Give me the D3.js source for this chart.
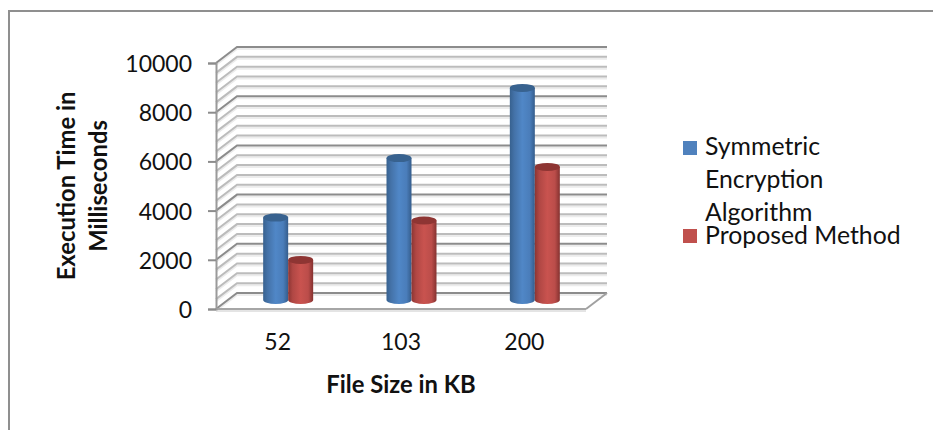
<!DOCTYPE html>
<html>
<head>
<meta charset="utf-8">
<script src="https://cdn.jsdelivr.net/npm/d3@7"></script>
<style>
html,body{margin:0;padding:0;background:#fff;overflow:hidden}
svg{display:block}
text{font-family:Lato,"Open Sans",sans-serif;fill:#111}
</style>
</head>
<body>
<svg id="chart" width="933" height="430"></svg>
<script>
const categories = ["52", "103", "200"];
const seriesNames = ["Symmetric Encryption Algorithm", "Proposed Method"];
const symmetricValues = [3350, 5770, 8620];
const proposedValues = [1630, 3230, 5410];
const yTickLabels = [0, 2000, 4000, 6000, 8000, 10000];
const yGridValues = [0,400,800,1200,1600,2000,2400,2800,3200,3600,4000,4400,4800,5200,5600,6000,6400,6800,7200,7600,8000,8400,8800,9200,9600,10000];
const legendLines = [["Symmetric","Encryption","Algorithm"],["Proposed Method"]];
const yTitleLines = ["Execution Time in","Milliseconds"];
const xTitle = "File Size in KB";

const svg = d3.select("#chart");
const plotLeft = 216, plotRight = 586, plotTop = 63, plotBottom = 309;
const depthX = 21, depthY = -16;

const x = d3.scaleBand().domain(categories).range([plotLeft, plotRight]);
const y = d3.scaleLinear().domain([0, 10000]).range([plotBottom, plotTop]);
const sx = d3.scaleBand().domain(seriesNames).range([-25, 25]);

// outer border (top and left only)
svg.append("path").attr("d","M9,430V11H933").attr("fill","none").attr("stroke","#8f8f8f").attr("stroke-width",2);

// defs
const defs = svg.append("defs");
function grad(id, stops){
  const g = defs.append("linearGradient").attr("id",id).attr("x1","0").attr("x2","1").attr("y1","0").attr("y2","0");
  stops.forEach(s=>g.append("stop").attr("offset",s[0]).attr("stop-color",s[1]));
}
grad("gBlue",[[0,"#37618f"],[0.18,"#4472a8"],[0.5,"#5087c7"],[0.8,"#4a7dba"],[1,"#355d8c"]]);
grad("gRed",[[0,"#8c3533"],[0.18,"#b04744"],[0.5,"#c9534f"],[0.8,"#bb4d4a"],[1,"#853230"]]);
const fills = ["url(#gBlue)","url(#gRed)"];
const capFills = ["#38628f","#8e3533"];
const swatch = ["#4f81bd","#c0504d"];

// walls: gridlines with soft shadow
const grid = svg.append("g");
yGridValues.forEach(v=>{
  const major = v % 2000 === 0;
  const yy = y(v);
  const d = `M${plotLeft},${yy}L${plotLeft+depthX},${yy+depthY}H${plotRight+depthX}`;
  grid.append("path").attr("d",d).attr("transform","translate(0,2)").attr("fill","none").attr("stroke","#ececec").attr("stroke-width",2);
  grid.append("path").attr("d",d).attr("fill","none").attr("stroke",major?"#8c8c8c":"#bcbcbc").attr("stroke-width",2);
});
// floor
grid.append("path").attr("d",`M${plotRight},${y(0)}L${plotRight+depthX},${y(0)+depthY}`).attr("fill","none").attr("stroke","#a0a0a0").attr("stroke-width",2);
grid.append("path").attr("d",`M${plotLeft},${y(0)+2}H${plotRight}`).attr("fill","none").attr("stroke","#e4e4e4").attr("stroke-width",2);
grid.append("path").attr("d",`M${plotLeft},${y(0)}H${plotRight}`).attr("fill","none").attr("stroke","#a6a6a6").attr("stroke-width",2);

// axes
const yAxis = d3.axisLeft(y).tickValues(yTickLabels).tickSize(8).tickPadding(16).tickFormat(d3.format("d"));
const gy = svg.append("g").attr("transform",`translate(${plotLeft},0)`).call(yAxis);
gy.selectAll(".domain").attr("stroke","#9a9a9a").attr("stroke-width",2);
gy.selectAll(".tick line").attr("stroke","#8c8c8c").attr("stroke-width",2);
gy.selectAll("text").attr("font-size",23).attr("font-family","Lato").attr("fill","#111").attr("dy","0.37em");

const xAxis = d3.axisBottom(x).tickSize(0).tickPadding(25);
const gx = svg.append("g").attr("transform",`translate(0,${plotBottom})`).call(xAxis);
gx.select(".domain").remove();
gx.selectAll("text").attr("font-size",23).attr("font-family","Lato").attr("fill","#111");

// cylinders
const rx = sx.bandwidth()/2, ry = 4;
const barDX = depthX/2, barDY = -9;
[symmetricValues, proposedValues].forEach((vals,si)=>{
  const g = svg.append("g");
  categories.forEach((c,i)=>{
    const cx = x(c) + x.bandwidth()/2 + barDX + sx(seriesNames[si]) + rx;
    const yB = y(0) + barDY;
    const yT = y(vals[i]) + barDY;
    g.append("path")
      .attr("d",`M${cx-rx},${yT}V${yB}A${rx},${ry} 0 0 0 ${cx+rx},${yB}V${yT}Z`)
      .attr("fill",fills[si]);
    g.append("ellipse").attr("cx",cx).attr("cy",yT).attr("rx",rx).attr("ry",ry).attr("fill",capFills[si]);
  });
});

// axis titles
const yTitle = svg.append("g");
yTitleLines.forEach((t,i)=>{
  yTitle.append("text").attr("transform",`translate(${75+i*32},186) rotate(-90)`)
    .attr("text-anchor","middle").attr("font-size",23.8).attr("font-weight",700).text(t);
});
svg.append("text").attr("x",401).attr("y",393).attr("text-anchor","middle").attr("font-size",23.8).attr("font-weight",700).text(xTitle);

// legend
const legendY = [[155,188,221],[244]];
const swatchY = [141,229];
seriesNames.forEach((n,si)=>{
  svg.append("rect").attr("x",683).attr("y",swatchY[si]).attr("width",14).attr("height",14).attr("fill",swatch[si]);
  legendLines[si].forEach((t,j)=>{
    svg.append("text").attr("x",705).attr("y",legendY[si][j]).attr("font-size",24.8).text(t);
  });
});
</script>
</body>
</html>
